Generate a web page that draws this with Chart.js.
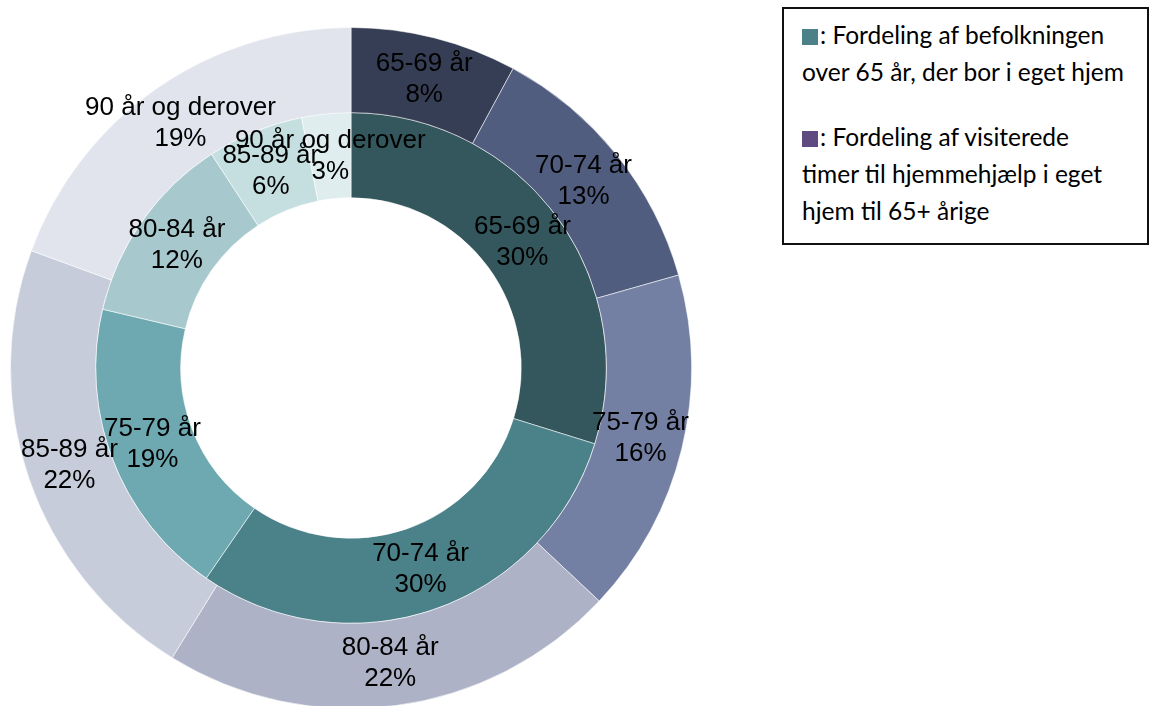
<!DOCTYPE html>
<html>
<head>
<meta charset="utf-8">
<script src="https://cdn.jsdelivr.net/npm/chart.js@4/dist/chart.umd.min.js"></script>
<style>
    body { margin: 0; background: #fff; overflow: hidden; }
    #chartBox { position: absolute; left: 10px; top: 27px; width: 682px; height: 682px; }
    #legendBox {
        position: absolute; left: 782px; top: 7px; width: 363px; height: 234px;
        border: 2px solid #111; font-family: Lato, sans-serif; font-size: 24.5px; color: #000;
    }
    .item { position: absolute; left: 18px; line-height: 37px; white-space: nowrap; }
    .swatch { display: inline-block; width: 16px; height: 16px; vertical-align: -1px; margin-right: 2px; }
</style>
</head>
<body>
<div id="chartBox"><canvas id="donut"></canvas></div>
<div id="legendBox">
    <div class="item" style="top: 7px;"><span class="swatch" style="background:#4c8188"></span>: Fordeling af befolkningen<br>over 65 år, der bor i eget hjem</div>
    <div class="item" style="top: 109px;"><span class="swatch" style="background:#5f4b80"></span>: Fordeling af visiterede<br>timer til hjemmehjælp i eget<br>hjem til 65+ årige</div>
</div>
<script>
// age groups (same for both rings)
const ageGroups = ['65-69 år', '70-74 år', '75-79 år', '80-84 år', '85-89 år', '90 år og derover'];

// outer ring: visiterede timer til hjemmehjælp (%)
const hoursShare = [7.9, 12.7, 16.4, 21.8, 21.8, 19.4];
// inner ring: befolkningen over 65 i eget hjem (%)
const populationShare = [29.8, 29.8, 19.1, 12.1, 6.1, 3.1];

const hoursColors = ['#363e55', '#505d7f', '#7380a3', '#adb2c7', '#c7ccdb', '#e1e4ed'];
const populationColors = ['#33575c', '#4b8189', '#6ea8b0', '#a7c9cd', '#c5dfe0', '#dfedee'];

// draws "group / pct%" in the middle of each arc
const arcLabels = {
    id: 'arcLabels',
    afterDatasetsDraw(chart) {
        const ctx = chart.ctx;
        ctx.save();
        ctx.font = '26px "Liberation Sans", Arial, sans-serif';
        ctx.fillStyle = '#000';
        ctx.textAlign = 'center';
        ctx.textBaseline = 'middle';
        chart.data.datasets.forEach((ds, di) => {
            const meta = chart.getDatasetMeta(di);
            meta.data.forEach((arc, i) => {
                const p = arc.getProps(['x', 'y', 'startAngle', 'endAngle', 'innerRadius', 'outerRadius'], true);
                const a = (p.startAngle + p.endAngle) / 2;
                const r = (p.innerRadius + p.outerRadius) / 2;
                const x = p.x + Math.cos(a) * r;
                const y = p.y + Math.sin(a) * r;
                ctx.fillText(chart.data.labels[i], x, y - 15.5);
                ctx.fillText(Math.round(ds.data[i]) + '%', x, y + 15.5);
            });
        });
        ctx.restore();
    }
};

new Chart(document.getElementById('donut'), {
    type: 'doughnut',
    data: {
        labels: ageGroups,
        datasets: [
            { label: 'Visiterede timer', data: hoursShare, backgroundColor: hoursColors },
            { label: 'Befolkningen', data: populationShare, backgroundColor: populationColors }
        ]
    },
    options: {
        responsive: true,
        maintainAspectRatio: false,
        animation: false,
        cutout: '50%',
        layout: { padding: 0 },
        elements: { arc: { borderWidth: 1, borderColor: 'rgba(255,255,255,0.55)', hoverOffset: 0 } },
        plugins: { legend: { display: false }, tooltip: { enabled: false } }
    },
    plugins: [arcLabels]
});
</script>
</body>
</html>
